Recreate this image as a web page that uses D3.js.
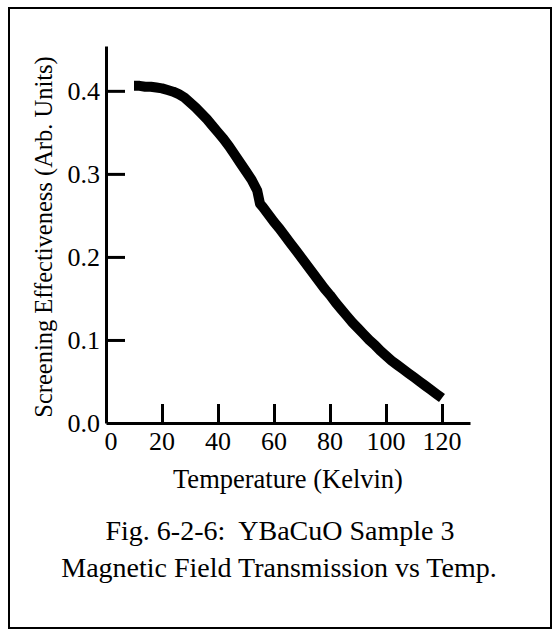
<!DOCTYPE html>
<html>
<head>
<meta charset="utf-8">
<script src="https://cdn.jsdelivr.net/npm/d3@7"></script>
<style>
  body { margin: 0; background: #fff; }
  text { font-family: "Liberation Serif", "Times New Roman", serif; fill: #000; }
</style>
</head>
<body>
<svg width="559" height="632"></svg>
<script>
// temperature (K) and screening effectiveness
var temps = [10, 12, 14, 16, 18, 20, 22, 24, 26, 28, 30, 32, 34, 36, 38, 40, 42, 44, 46, 48, 50, 52, 54,
  55, 56, 58, 60, 62, 64, 66, 68, 70, 72, 74, 76, 78, 80, 82, 84, 86, 88, 90, 92, 94, 96, 98, 100,
  102, 104, 106, 108, 110, 112, 114, 116, 118, 120];
var values = [0.406, 0.406, 0.405, 0.405, 0.404, 0.403, 0.401, 0.399, 0.396, 0.392, 0.386, 0.380, 0.373,
  0.366, 0.358, 0.350, 0.342, 0.333, 0.323, 0.313, 0.303, 0.293, 0.280,
  0.264, 0.260, 0.251, 0.242, 0.234, 0.225, 0.216, 0.207, 0.198, 0.189, 0.180, 0.171, 0.162, 0.154,
  0.145, 0.137, 0.129, 0.121, 0.114, 0.107, 0.100, 0.094, 0.087, 0.081, 0.075, 0.070, 0.065, 0.060,
  0.055, 0.050, 0.045, 0.040, 0.035, 0.030];
var xTicks = [20, 40, 60, 80, 100, 120];
var xTickLabels = ["0", "20", "40", "60", "80", "100", "120"];
var yTicks = [0.1, 0.2, 0.3, 0.4];
var yTickLabels = ["0.0", "0.1", "0.2", "0.3", "0.4"];

var svg = d3.select("svg");

// outer frame
svg.append("rect")
  .attr("x", 9).attr("y", 8)
  .attr("width", 542).attr("height", 620)
  .attr("fill", "none").attr("stroke", "#000").attr("stroke-width", 2);

var x = d3.scaleLinear().domain([0, 130]).range([106, 470]);
var y = d3.scaleLinear().domain([0, 0.454]).range([423, 46]);

var g = svg.append("g");

// x axis: line + inward ticks
g.append("g")
  .attr("transform", "translate(0,423)")
  .call(d3.axisTop(x).tickValues(xTicks).tickSize(19).tickSizeOuter(0).tickFormat(""))
  .call(function(a) {
    a.selectAll("path, line").attr("stroke", "#000").attr("stroke-width", 3);
  });

// y axis: line + inward ticks
g.append("g")
  .attr("transform", "translate(106,0)")
  .call(d3.axisRight(y).tickValues(yTicks).tickSize(19).tickSizeOuter(0).tickFormat(""))
  .call(function(a) {
    a.selectAll("path, line").attr("stroke", "#000").attr("stroke-width", 3);
  });

// tick labels
g.selectAll(".xl")
  .data(xTickLabels)
  .enter()
  .append("text")
  .attr("x", function(d) { return x(+d) + (d == "0" ? 5 : 0); })
  .attr("y", 450)
  .attr("text-anchor", "middle")
  .style("font-size", "26px")
  .text(function(d) { return d; });

g.selectAll(".yl")
  .data(yTickLabels)
  .enter()
  .append("text")
  .attr("x", 100)
  .attr("y", function(d) { return y(+d) + 9; })
  .attr("text-anchor", "end")
  .style("font-size", "26px")
  .text(function(d) { return d; });

// data curve (dense, thick)
var line = d3.line()
  .x(function(d, i) { return x(temps[i]); })
  .y(function(d) { return y(d); });

g.append("path")
  .datum(values)
  .attr("d", line)
  .attr("fill", "none")
  .attr("stroke", "#000")
  .attr("stroke-width", 10)
  .attr("stroke-linejoin", "round");

// axis titles
svg.append("text")
  .attr("x", 288).attr("y", 488)
  .attr("text-anchor", "middle")
  .style("font-size", "26.5px")
  .text("Temperature (Kelvin)");

svg.append("text")
  .attr("transform", "translate(52,237) rotate(-90)")
  .attr("text-anchor", "middle")
  .style("font-size", "24.5px")
  .text("Screening Effectiveness (Arb. Units)");

// caption
svg.append("text")
  .attr("x", 280).attr("y", 540)
  .attr("text-anchor", "middle")
  .style("font-size", "28px")
  .attr("xml:space", "preserve")
  .text("Fig. 6-2-6:  YBaCuO Sample 3");

svg.append("text")
  .attr("x", 279).attr("y", 577)
  .attr("text-anchor", "middle")
  .style("font-size", "28px")
  .text("Magnetic Field Transmission vs Temp.");
</script>
</body>
</html>
